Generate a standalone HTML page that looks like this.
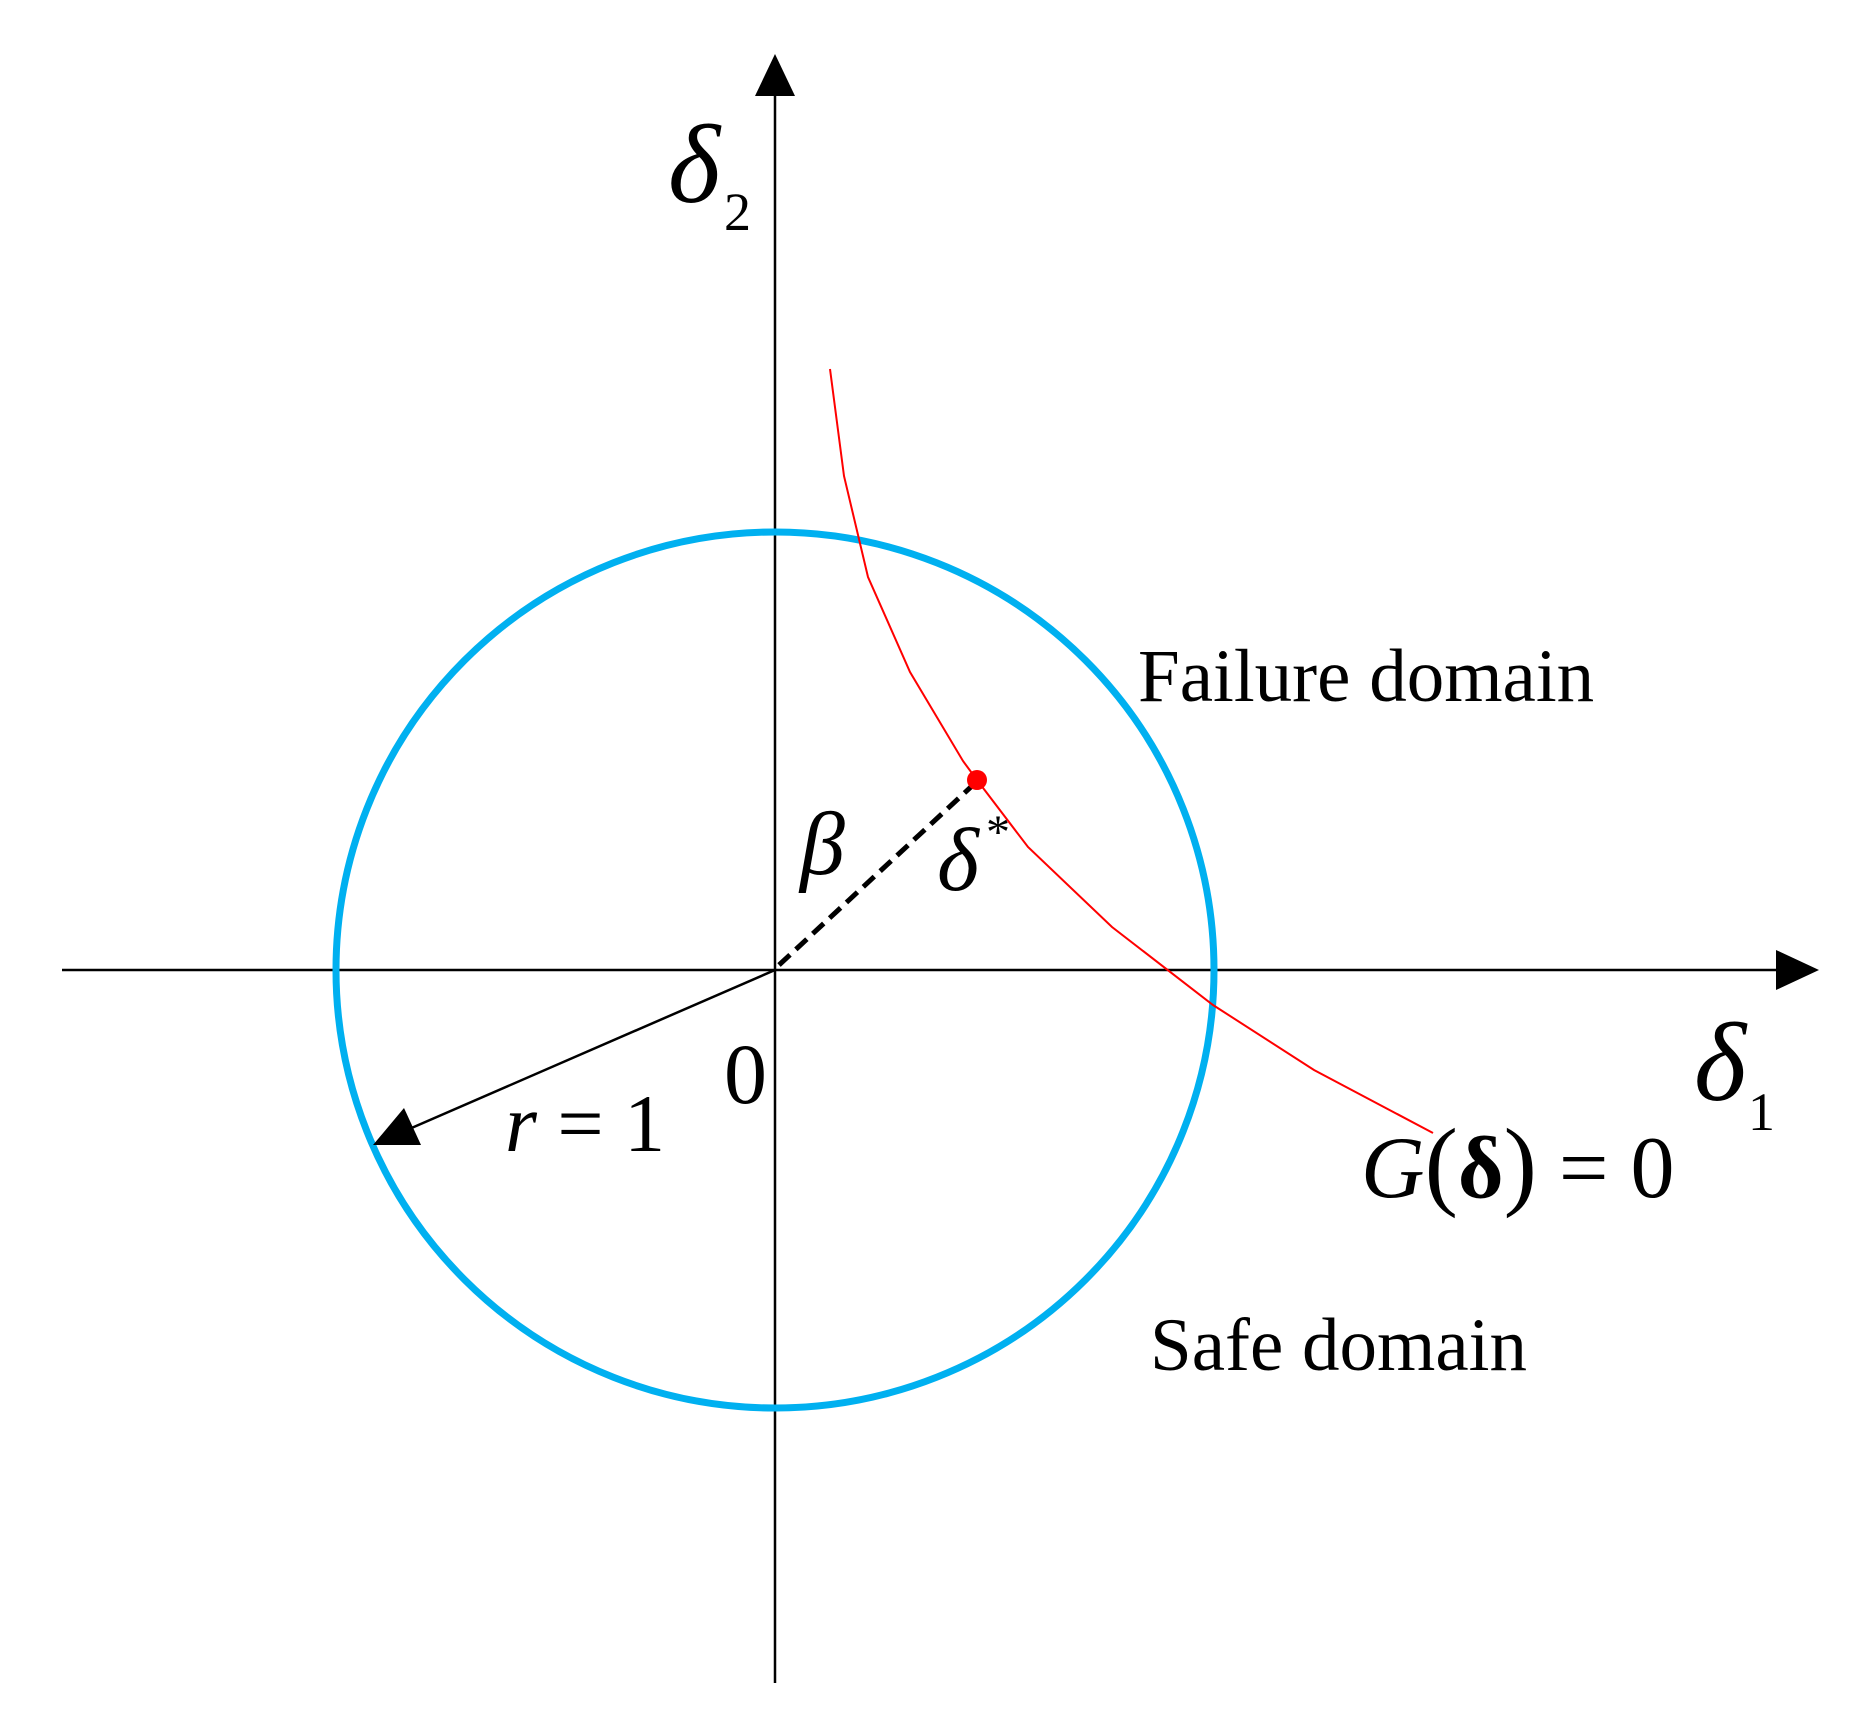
<!DOCTYPE html>
<html><head><style>html,body{margin:0;padding:0;background:#fff}svg{display:block}text{font-family:"Liberation Serif","Times New Roman",serif}</style></head>
<body>
<svg width="1864" height="1731" viewBox="0 0 1864 1731" xmlns="http://www.w3.org/2000/svg">
<rect width="1864" height="1731" fill="#fff"/>
<line x1="775" y1="92" x2="775" y2="1683" stroke="#000" stroke-width="2.5"/>
<polygon points="775,54 755,96 795,96" fill="#000"/>
<line x1="62" y1="970" x2="1782" y2="970" stroke="#000" stroke-width="2.5"/>
<polygon points="1819,970 1776,950 1776,990" fill="#000"/>
<ellipse cx="775" cy="970" rx="439" ry="438" fill="none" stroke="#00b0f0" stroke-width="7"/>
<polyline points="830,369 844,476 868,577 910,672 963,761 977,780 1028,847 1112,927 1213,1005 1314,1070 1433,1133" fill="none" stroke="#ff0000" stroke-width="2"/>
<line x1="779" y1="965" x2="973" y2="785" stroke="#000" stroke-width="5" stroke-dasharray="15,8"/>
<circle cx="977" cy="780" r="10" fill="#ff0000"/>
<line x1="775" y1="970" x2="400" y2="1133" stroke="#000" stroke-width="2.5"/>
<polygon points="373,1145 404,1108 421,1145" fill="#000"/>
<text x="668" y="202" font-size="112" font-style="italic">δ</text>
<text x="724" y="230" font-size="54">2</text>
<text x="1694" y="1100" font-size="112" font-style="italic">δ</text>
<text x="1748" y="1130" font-size="54">1</text>
<text x="1138" y="701" font-size="75">Failure domain</text>
<text x="1150" y="1370" font-size="75">Safe domain</text>
<text x="724" y="1103" font-size="86">0</text>
<text x="505" y="1151" font-size="82"><tspan font-style="italic">r</tspan> = 1</text>
<text x="800" y="874" font-size="90" font-style="italic">β</text>
<text x="937" y="890" font-size="90" font-style="italic">δ</text>
<text x="986" y="848" font-size="48">*</text>
<text x="1361" y="1197" font-size="88"><tspan font-style="italic">G</tspan><tspan font-size="100">(</tspan><tspan font-weight="bold">δ</tspan><tspan font-size="100">)</tspan> = 0</text>
</svg>
</body></html>
